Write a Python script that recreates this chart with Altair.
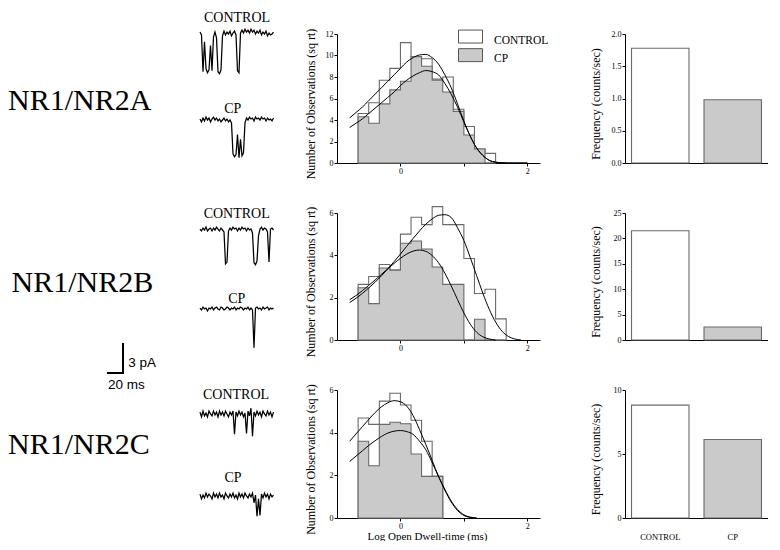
import altair as alt
import pandas as pd

# ---------------- data ----------------
row_names = ["NR1/NR2A", "NR1/NR2B", "NR1/NR2C"]
series = ["CONTROL", "CP"]

# histogram bin edges (log ms) and sqrt-count heights
edges_A = [-0.667, -0.5, -0.333, -0.167, 0.0, 0.167, 0.333, 0.5, 0.667, 0.833, 1.0, 1.167, 1.333, 1.5]
ctrl_A = [4.6, 5.6, 7.7, 8.8, 11.2, 9.9, 9.7, 7.8, 8.0, 5.0, 3.4, 1.3, 0.9]
cp_A = [4.3, 3.7, 5.5, 6.8, 7.6, 9.9, 9.0, 7.7, 6.6, 4.8, 2.6, 1.3, 0.0]

edges_B = [-0.667, -0.5, -0.333, -0.167, 0.0, 0.167, 0.333, 0.5, 0.667, 0.833, 1.0, 1.167, 1.333, 1.5, 1.667]
ctrl_B = [2.63, 3.0, 3.57, 3.3, 5.0, 5.8, 5.45, 6.3, 5.45, 5.45, 3.85, 2.2, 2.4, 1.0]
cp_B = [2.47, 1.72, 3.4, 3.3, 4.57, 4.68, 4.3, 3.45, 2.63, 2.63, 0.0, 0.98, 0.0, 0.0]

edges_C = [-0.667, -0.5, -0.333, -0.167, 0.0, 0.167, 0.333, 0.5, 0.667]
ctrl_C = [4.69, 4.39, 5.48, 5.85, 5.3, 4.58, 3.6, 1.95]
cp_C = [3.6, 2.45, 4.39, 4.49, 4.42, 3.0, 1.95, 1.95]

# fitted curves, read at x = -0.8, -0.7, ...
curve_x = [-0.8, -0.7, -0.6, -0.5, -0.4, -0.3, -0.2, -0.1, 0.0, 0.1, 0.2, 0.3, 0.4, 0.5,
           0.6, 0.7, 0.8, 0.9, 1.0, 1.1, 1.2, 1.3, 1.4, 1.5, 1.6, 1.7, 1.8, 1.9, 2.0]
fit_ctrl_A = [4.2, 4.7, 5.2, 5.8, 6.4, 7.0, 7.6, 8.2, 8.8, 9.4, 9.8, 10.05, 10.1, 9.8, 9.2,
              8.2, 7.0, 5.5, 3.9, 2.5, 1.4, 0.7, 0.25, 0.08, 0.02, 0, 0, 0, 0]
fit_cp_A = [3.3, 3.7, 4.1, 4.6, 5.1, 5.6, 6.1, 6.6, 7.2, 7.7, 8.1, 8.4, 8.6, 8.5, 8.2,
            7.4, 6.4, 5.2, 3.8, 2.5, 1.4, 0.7, 0.25, 0.08, 0.02, 0, 0, 0, 0]
fit_ctrl_B = [1.77, 1.97, 2.2, 2.46, 2.73, 3.03, 3.36, 3.7, 4.06, 4.43, 4.8, 5.15, 5.47, 5.72,
              5.89, 5.92, 5.79, 5.3, 4.7, 3.9, 3.05, 2.2, 1.45, 0.85, 0.42, 0.17, 0.05, 0]
fit_cp_B = [1.9, 2.1, 2.33, 2.58, 2.83, 3.1, 3.36, 3.62, 3.86, 4.06, 4.2, 4.25, 4.19, 3.99,
            3.65, 3.16, 2.56, 1.91, 1.28, 0.75, 0.37, 0.15, 0.05, 0]
fit_ctrl_C = [3.6, 3.94, 4.28, 4.62, 4.94, 5.21, 5.4, 5.5, 5.45, 5.24, 4.8, 4.15, 3.45, 2.7,
              1.95, 1.3, 0.75, 0.35, 0.12, 0.03, 0]
fit_cp_C = [2.65, 2.9, 3.15, 3.4, 3.62, 3.82, 3.98, 4.07, 4.1, 4.05, 3.92, 3.6, 3.2, 2.6,
            1.95, 1.35, 0.8, 0.4, 0.15, 0.04, 0]

# opening frequency (counts/sec)
freq_A = [1.78, 0.98]
freq_B = [21.5, 2.55]
freq_C = [8.82, 6.13]

# single-channel traces (pA), sampled every 2 ms
t_ms = list(range(0, 100, 2))
trace_A_ctrl = [0.2, -0.1, -3.9, -0.8, -3.6, -4.0, -3.7, -1.2, -3.8, -0.3,
                0.2, -0.4, -3.9, -4.1, -3.7, -0.2, 0.3, -0.1, 0.2, 0.0,
                0.3, -0.2, 0.1, 0.3, -0.1, -3.8, -4.0, 0.1, 0.4, 0.1,
                0.5, 0.2, 0.4, 0.1, 0.5, 0.2, 0.4, 0.0, 0.3, 0.1,
                0.4, -0.1, 0.2, 0.0, 0.3, -0.2, 0.1, -0.1, 0.0, 0.2]
trace_A_cp = [0.1, -0.2, 0.2, -0.1, 0.3, 0.0, 0.2, -0.2, 0.1, 0.3,
              0.0, 0.2, -0.1, 0.1, -0.2, 0.0, 0.2, -0.1, 0.1, -0.2,
              0.0, -0.3, -3.5, -3.8, -3.6, -1.5, -3.9, -2.0, -3.7, -3.4,
              -0.3, 0.2, 0.0, 0.3, 0.1, 0.2, -0.1, 0.3, 0.1, 0.2,
              0.0, 0.3, 0.1, 0.2, -0.1, 0.2, 0.0, 0.1, -0.1, 0.2]
trace_B_ctrl = [0.1, -0.1, 0.2, 0.0, 0.3, -0.1, 0.1, 0.2, -0.1, 0.2,
                0.0, 0.3, 0.1, -0.1, 0.2, 0.0, -0.2, -3.5, -3.3, -0.1,
                0.2, 0.0, 0.3, 0.1, 0.2, -0.1, 0.2, 0.0, 0.3, 0.1,
                0.2, -0.1, 0.2, 0.0, 0.1, -0.3, -3.4, -3.6, -3.2, -0.6,
                0.1, 0.3, 0.0, 0.2, 0.1, -0.2, -3.3, 0.1, 0.2, 0.0]
trace_B_cp = [0.1, -0.1, 0.2, 0.0, 0.1, -0.2, 0.1, 0.0, 0.2, -0.1,
              0.1, 0.2, 0.0, -0.1, 0.2, 0.1, -0.1, 0.0, 0.2, 0.1,
              -0.1, 0.1, 0.0, 0.2, -0.1, 0.1, 0.0, 0.2, 0.1, -0.1,
              0.1, 0.0, 0.2, -0.1, 0.1, -0.1, -4.0, 0.1, 0.2, 0.0,
              0.1, -0.1, 0.2, 0.0, 0.1, 0.2, -0.1, 0.1, 0.0, 0.1]
trace_C_ctrl = [0.2, -0.3, 0.3, -0.2, 0.1, -0.3, 0.3, 0.0, -0.2, 0.3,
                -0.1, 0.2, -0.3, 0.3, -0.1, 0.2, -0.2, 0.3, 0.0, -0.3,
                0.2, -0.1, 0.3, -2.1, 0.2, -0.2, 0.3, -0.1, 0.2, -0.3,
                0.1, -2.0, 0.3, -0.2, 0.6, -2.3, 0.2, -0.2, 0.3, -0.1,
                0.2, -0.3, 0.3, 0.0, -0.2, 0.3, -0.1, 0.2, -0.3, 0.2]
trace_C_cp = [0.2, -0.3, 0.1, -0.2, 0.3, -0.1, 0.2, 0.0, -0.3, 0.3,
              -0.1, 0.2, -0.2, 0.3, -0.1, 0.1, -0.3, 0.3, 0.0, -0.2,
              0.2, -0.1, 0.3, -0.2, 0.1, -0.3, 0.3, -0.1, 0.2, -0.2,
              0.3, 0.0, -0.2, 0.2, -0.1, 0.3, -0.7, 0.1, -2.1, -0.3,
              -2.0, 0.2, -0.2, 0.3, -0.1, 0.2, -0.3, 0.2, -0.1, 0.1]

scale_ms = [20]
scale_pa = [3]

# ---------------- style ----------------
SERIF = "Liberation Serif"
SANS = "Liberation Sans"
STIP = "#cacaca"
OUTLINE = "#6a6a6a"
H = [129, 127, 128]          # panel heights per row
LEFT_W = 244
PX_PER_MS = 0.75
PX_PER_PA = 9.67


# ---------------- left cells: labels, traces, scale bar ----------------
def scales(h):
    xs = alt.Scale(domain=[0, LEFT_W / PX_PER_MS], nice=False, zero=False)
    ys = alt.Scale(domain=[-h / PX_PER_PA, 0], nice=False, zero=False)
    return xs, ys


def trace_layer(vals, h, dx, dy):
    xs, ys = scales(h)
    df = pd.DataFrame({"t": t_ms[:len(vals)], "i": vals})
    return alt.Chart(df).mark_line(color="black", strokeWidth=1.25, xOffset=dx, yOffset=dy).encode(
        x=alt.X("t:Q", scale=xs, axis=None),
        y=alt.Y("i:Q", scale=ys, axis=None),
    )


def text_layer(txt, x, y, size, font=SERIF, align="left"):
    return alt.Chart(pd.DataFrame({"s": [txt]})).mark_text(
        font=font, fontSize=size, align=align, baseline="alphabetic", color="black"
    ).encode(text="s:N", x=alt.value(x), y=alt.value(y))


def scale_bar(h, dx, dy):
    xs, ys = scales(h)
    sb = pd.DataFrame({"t0": [0], "t1": scale_ms, "i0": [0], "i1": scale_pa})
    hb = alt.Chart(sb).mark_rule(color="black", strokeWidth=2, strokeCap="square",
                                 xOffset=dx, x2Offset=dx, yOffset=dy).encode(
        x=alt.X("t0:Q", scale=xs, axis=None), x2="t1:Q", y=alt.Y("i0:Q", scale=ys, axis=None))
    vb = alt.Chart(sb).mark_rule(color="black", strokeWidth=2, strokeCap="square",
                                 xOffset=dx, yOffset=dy, y2Offset=dy).encode(
        x=alt.X("t1:Q", scale=xs, axis=None), y=alt.Y("i0:Q", scale=ys, axis=None), y2="i1:Q")
    return [hb, vb]


leftA = alt.layer(
    trace_layer(trace_A_ctrl, H[0], 192, 0),
    trace_layer(trace_A_cp, H[0], 192, 86),
    text_layer(row_names[0], 0, 76, 30),
    text_layer(series[0], 229, -12.3, 14, align="center"),
    text_layer(series[1], 224.7, 78.7, 14, align="center"),
).properties(width=LEFT_W, height=H[0])

leftB = alt.layer(
    trace_layer(trace_B_ctrl, H[1], 192, 17),
    trace_layer(trace_B_cp, H[1], 192, 96),
    *scale_bar(H[1], 100, 160),
    text_layer(row_names[1], 3.5, 79, 30),
    text_layer(series[0], 228.7, 5, 14, align="center"),
    text_layer(series[1], 228.7, 90, 14, align="center"),
    text_layer("3 pA", 120.3, 153.7, 13.5, font=SANS),
    text_layer("20 ms", 100, 175.5, 13.5, font=SANS),
).properties(width=LEFT_W, height=H[1])

leftC = alt.layer(
    trace_layer(trace_C_ctrl, H[2], 192, 24),
    trace_layer(trace_C_cp, H[2], 192, 106),
    text_layer(row_names[2], 0, 64, 30),
    text_layer(series[0], 228, 9, 14, align="center"),
    text_layer(series[1], 225, 92, 14, align="center"),
).properties(width=LEFT_W, height=H[2])


# ---------------- histograms ----------------
def hist_panel(edges, ctrl, cp, fit_c, fit_p, ymax, yvals, height, legend, xtitle):
    xs = alt.Scale(domain=[-1, 2.2], nice=False, zero=False)
    ys = alt.Scale(domain=[0, ymax], nice=False, zero=True)
    xaxis = alt.Axis(values=[0, 1, 2], labelExpr="datum.value == 1 ? '' : datum.label",
                     tickSize=3, labelPadding=1, titleFontSize=11, titleX=90, titleY=21,
                     titleBaseline="alphabetic", titleAlign="center")
    yaxis = alt.Axis(values=yvals, tickSize=3, labelPadding=1, titleX=-23, titleY=height / 2 + 5,
                     titleBaseline="alphabetic", titleAlign="center")
    X = alt.X("x:Q", scale=xs, axis=xaxis, title=xtitle if xtitle else None)
    Y = alt.Y("y:Q", scale=ys, axis=yaxis, title="Number of Observations (sq rt)", stack=None)

    dc = pd.DataFrame({"x": edges, "y": list(ctrl) + [0.0], "s": series[0]})
    dp = pd.DataFrame({"x": edges[:len(cp) + 1], "y": list(cp) + [0.0], "s": series[1]})

    if legend:
        fill_enc = alt.Fill("s:N", scale=alt.Scale(domain=series, range=["white", STIP]),
                            legend=alt.Legend(
                                title=None, orient="none", legendX=121, legendY=-6, padding=0,
                                rowPadding=0.6, labelOffset=11, symbolType="M-1,-0.87H1V0.21H-1Z",
                                symbolSize=576, symbolStrokeColor="#555", symbolStrokeWidth=1,
                                symbolOpacity=1, labelFont=SERIF, labelFontSize=11.5,
                                labelColor="black", labelLimit=200))
        ca = alt.Chart(dc).mark_area(interpolate="step-after", stroke=OUTLINE, strokeWidth=1.1,
                                     opacity=1).encode(x=X, y=Y, fill=fill_enc)
        pa = alt.Chart(dp).mark_area(interpolate="step-after", stroke=OUTLINE, strokeWidth=1.1,
                                     opacity=1).encode(x=X, y=Y, fill=fill_enc)
    else:
        ca = alt.Chart(dc).mark_area(interpolate="step-after", stroke=OUTLINE, strokeWidth=1.1,
                                     fill="white", opacity=1).encode(x=X, y=Y)
        pa = alt.Chart(dp).mark_area(interpolate="step-after", stroke=OUTLINE, strokeWidth=1.1,
                                     fill=STIP, opacity=1).encode(x=X, y=Y)

    fc = pd.DataFrame({"x": curve_x[:len(fit_c)], "y": fit_c})
    fp = pd.DataFrame({"x": curve_x[:len(fit_p)], "y": fit_p})
    lc = alt.Chart(fc).mark_line(color="black", strokeWidth=1, interpolate="monotone").encode(x=X, y=Y)
    lp = alt.Chart(fp).mark_line(color="black", strokeWidth=1, interpolate="monotone").encode(x=X, y=Y)
    return alt.layer(ca, pa, lc, lp).properties(width=203, height=height)


hA = hist_panel(edges_A, ctrl_A, cp_A, fit_ctrl_A, fit_cp_A, 12, [0, 2, 4, 6, 8, 10, 12], H[0], True, None)
hB = hist_panel(edges_B, ctrl_B, cp_B, fit_ctrl_B, fit_cp_B, 6, [0, 2, 4, 6], H[1], False, None)
hC = hist_panel(edges_C, ctrl_C, cp_C, fit_ctrl_C, fit_cp_C, 6, [0, 2, 4, 6], H[2], False,
                "Log Open Dwell-time (ms)")


# ---------------- frequency bars ----------------
def bar_panel(vals, ymax, yvals, fmt, height, show_x):
    df = pd.DataFrame({"g": series, "v": vals})
    if show_x:
        xaxis = alt.Axis(ticks=False, labelPadding=14, labelFontSize=8.5, labelAngle=0, title=None)
    else:
        xaxis = alt.Axis(ticks=False, labels=False, title=None)
    yaxis = alt.Axis(values=yvals, format=fmt, tickSize=3, labelPadding=1, titleX=-26,
                     titleY=height / 2 + 5, titleBaseline="alphabetic", titleAlign="center")
    return alt.Chart(df).mark_bar(stroke=OUTLINE, strokeWidth=1.1, opacity=1).encode(
        x=alt.X("g:N", sort=series, scale=alt.Scale(paddingInner=0.207, paddingOuter=0.09), axis=xaxis),
        y=alt.Y("v:Q", scale=alt.Scale(domain=[0, ymax], nice=False), axis=yaxis,
                title="Frequency (counts/sec)"),
        fill=alt.Fill("g:N", scale=alt.Scale(domain=series, range=["white", STIP]), legend=None),
    ).properties(width=143, height=height)


bA = bar_panel(freq_A, 2, [0, 0.5, 1.0, 1.5, 2.0], ".1f", H[0], False)
bB = bar_panel(freq_B, 25, [0, 5, 10, 15, 20, 25], "d", H[1], False)
bC = bar_panel(freq_C, 10, [0, 5, 10], "d", H[2], True)

chart = alt.concat(
    leftA, hA, bA,
    leftB, hB, bB,
    leftC, hC, bC,
    columns=3, spacing={"row": 50, "column": 85}, bounds="flush",
).resolve_scale(fill="independent").resolve_legend(fill="independent").properties(
    padding={"left": 0, "top": 2, "right": 0, "bottom": 0}
).configure(background="white").configure_view(stroke=None).configure_axis(
    labelFont=SERIF, labelFontSize=8, labelColor="black",
    titleFont=SERIF, titleFontSize=12, titleFontWeight="normal", titleColor="black",
    domainColor="black", tickColor="black", grid=False,
)

chart.save("out.html", embed_options={"renderer": "svg", "actions": False})
